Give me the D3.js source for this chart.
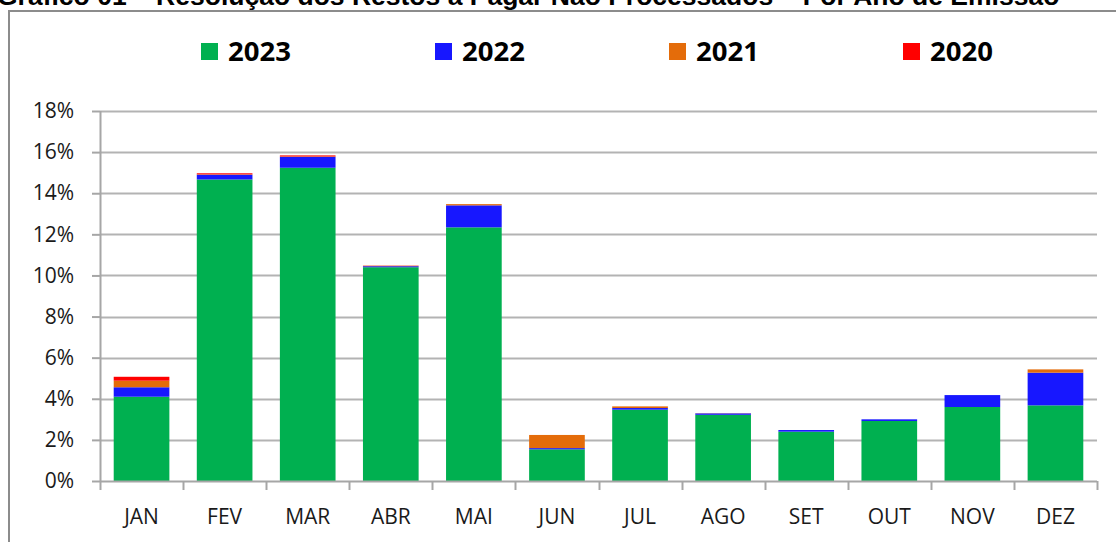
<!DOCTYPE html>
<html>
<head>
<meta charset="utf-8">
<script src="https://cdn.jsdelivr.net/npm/d3@7"></script>
<style>
  body { margin: 0; background: #fff; }
  svg { display: block; }
</style>
</head>
<body>
<div class="chart"></div>
<script>
// Data (% of total, by month and year of issue)
var months = ["JAN", "FEV", "MAR", "ABR", "MAI", "JUN", "JUL", "AGO", "SET", "OUT", "NOV", "DEZ"];
var years = ["2023", "2022", "2021", "2020"];
var v2023 = [4.10, 14.67, 15.24, 10.40, 12.34, 1.54, 3.47, 3.22, 2.40, 2.92, 3.60, 3.68];
var v2022 = [0.46, 0.23, 0.53, 0.05, 1.07, 0.06, 0.08, 0.07, 0.08, 0.08, 0.58, 1.59];
var v2021 = [0.32, 0.02, 0.02, 0.02, 0.06, 0.64, 0.08, 0.01, 0.00, 0.00, 0.00, 0.16];
var v2020 = [0.19, 0.05, 0.05, 0.01, 0.00, 0.00, 0.00, 0.00, 0.00, 0.00, 0.00, 0.00];
var yTicks = [0, 2, 4, 6, 8, 10, 12, 14, 16, 18];
var colors = ["#00b050", "#1717ff", "#e46c0a", "#ff0000"];

var svgWidth = 1116;
var svgHeight = 542;

var margin = { top: 111, right: 19, bottom: 61, left: 100 };
var width = svgWidth - margin.left - margin.right;
var height = svgHeight - margin.top - margin.bottom;

var svg = d3.select(".chart")
  .append("svg")
  .attr("width", svgWidth)
  .attr("height", svgHeight);

// Title (cut off at the top of the picture, as in the source)
svg.append("text")
  .attr("x", -3)
  .attr("y", 5)
  .attr("font-family", "Liberation Sans, Arial, sans-serif")
  .attr("font-weight", "bold")
  .attr("font-size", "26.5px")
  .attr("fill", "#000")
  .text("Gráfico 01 – Resolução dos Restos a Pagar Não Processados – Por Ano de Emissão");

// Outer frame
svg.append("rect")
  .attr("x", 9)
  .attr("y", 11)
  .attr("width", 1140)
  .attr("height", 600)
  .attr("fill", "none")
  .attr("stroke", "#8c8c8c")
  .attr("stroke-width", 2);

var chartGroup = svg.append("g")
  .attr("transform", `translate(${margin.left}, ${margin.top})`);

var table = months.map(function(m, i) {
  return { month: m, "2023": v2023[i], "2022": v2022[i], "2021": v2021[i], "2020": v2020[i] };
});
var series = d3.stack().keys(years)(table);

var xScale = d3.scaleBand()
  .domain(months)
  .range([0, width])
  .paddingInner(0.33)
  .paddingOuter(0.165);

var yScale = d3.scaleLinear()
  .domain([0, 18])
  .range([height, 0]);

var colorScale = d3.scaleOrdinal().domain(years).range(colors);

// Gridlines
chartGroup.append("g")
  .selectAll("line")
  .data(yTicks.slice(1))
  .enter()
  .append("line")
  .attr("x1", 0)
  .attr("x2", width)
  .attr("y1", d => Math.round(yScale(d)) + 0.5)
  .attr("y2", d => Math.round(yScale(d)) + 0.5)
  .attr("stroke", "#b3b3b3")
  .attr("stroke-width", 2);

// Bars
chartGroup.append("g")
  .selectAll("g")
  .data(series)
  .enter()
  .append("g")
  .attr("fill", d => colorScale(d.key))
  .selectAll("rect")
  .data(d => d)
  .enter()
  .append("rect")
  .attr("x", d => xScale(d.data.month))
  .attr("width", xScale.bandwidth())
  .attr("y", d => yScale(d[1]))
  .attr("height", d => yScale(d[0]) - yScale(d[1]));

// Left axis
var leftAxis = d3.axisLeft(yScale)
  .tickValues(yTicks)
  .tickFormat(d => d + "%")
  .tickSize(8)
  .tickPadding(18);

var yAxisG = chartGroup.append("g").call(leftAxis);
yAxisG.select(".domain").attr("stroke", "#a6a6a6").attr("stroke-width", 2)
  .attr("d", `M0.5,0V${height}`);
yAxisG.selectAll(".tick line").attr("stroke", "#a6a6a6").attr("stroke-width", 2);
yAxisG.selectAll(".tick text")
  .attr("font-family", "Open Sans, sans-serif")
  .attr("font-size", "21px")
  .attr("fill", "#1a1a1a");

// Bottom axis: ticks at category boundaries
var xAxisG = chartGroup.append("g")
  .attr("transform", `translate(0, ${height})`);
xAxisG.append("line")
  .attr("x1", 0).attr("x2", width)
  .attr("y1", 0.5).attr("y2", 0.5)
  .attr("stroke", "#a6a6a6")
  .attr("stroke-width", 2);
var step = xScale.step();
xAxisG.selectAll(".xtick")
  .data(d3.range(months.length + 1))
  .enter()
  .append("line")
  .attr("class", "xtick")
  .attr("x1", i => Math.round(i * step) + 0.5)
  .attr("x2", i => Math.round(i * step) + 0.5)
  .attr("y1", 0)
  .attr("y2", 9)
  .attr("stroke", "#a6a6a6")
  .attr("stroke-width", 2);
xAxisG.selectAll(".xlabel")
  .data(months)
  .enter()
  .append("text")
  .attr("class", "xlabel")
  .attr("x", d => xScale(d) + xScale.bandwidth() / 2)
  .attr("y", 43)
  .attr("text-anchor", "middle")
  .attr("font-family", "Open Sans, sans-serif")
  .attr("font-size", "21px")
  .attr("fill", "#1a1a1a")
  .text(d => d);

// Legend
var legendX = [201, 435, 669, 903];
var legend = svg.append("g")
  .selectAll("g")
  .data(years)
  .enter()
  .append("g")
  .attr("transform", (d, i) => `translate(${legendX[i]}, 43)`);
legend.append("rect")
  .attr("width", 17)
  .attr("height", 17)
  .attr("fill", d => colorScale(d));
legend.append("text")
  .attr("x", 27)
  .attr("y", 18)
  .attr("font-family", "Open Sans, sans-serif")
  .attr("font-weight", "bold")
  .attr("font-size", "27.5px")
  .attr("fill", "#000")
  .text(d => d);
</script>
</body>
</html>
